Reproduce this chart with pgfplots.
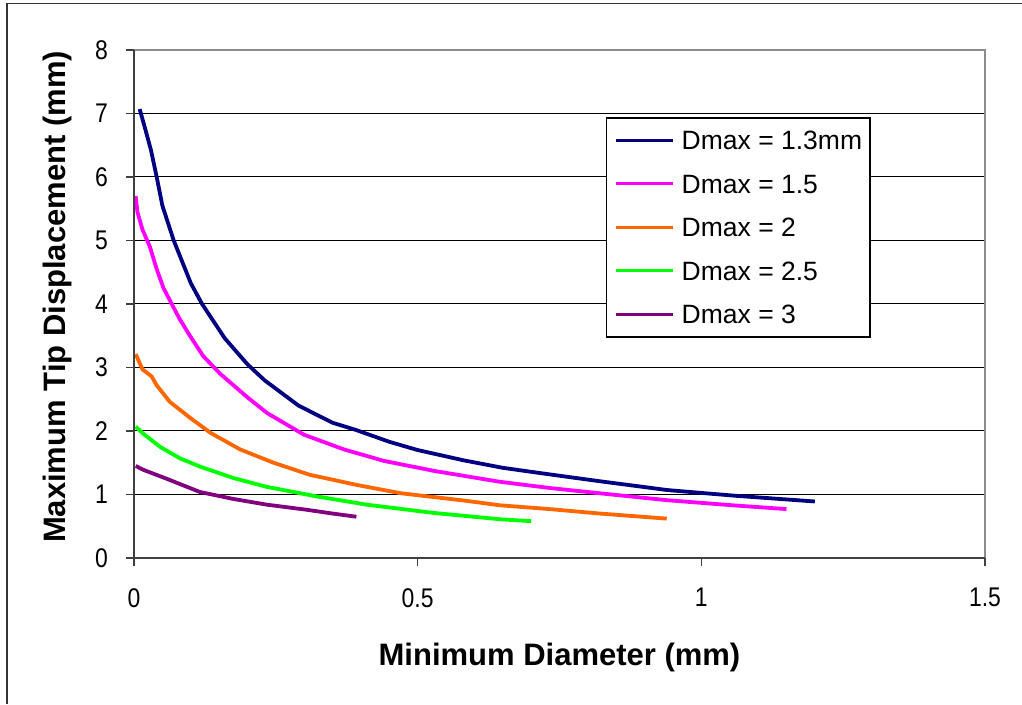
\documentclass[border=0pt]{standalone}
\usepackage{fontspec}
\setmainfont{Liberation Sans}
\newfontfamily\tickfont[FakeStretch=0.85]{Liberation Sans}
\newcommand\tickfmt[1]{{\tickfont\fontsize{27}{27}\selectfont\pgfmathprintnumber[assume math mode=true]{#1}}}
\usepackage{pgfplots}
\pgfplotsset{compat=1.18}

\definecolor{dnavy}{RGB}{0,0,128}
\definecolor{dpink}{RGB}{255,0,255}
\definecolor{dorange}{RGB}{255,102,0}
\definecolor{dgreen}{RGB}{0,255,0}
\definecolor{dpurple}{RGB}{128,0,128}

\begin{document}
\begin{tikzpicture}[x=1pt,y=1pt]
\useasboundingbox (0,0) rectangle (1022,704);
\draw[line width=1.5pt, black!80] (7,0) -- (7,700.5) -- (1022,700.5);
\begin{axis}[
    at={(134pt,146pt)}, anchor=south west,
    scale only axis, width=851pt, height=508pt,
    xmin=0, xmax=1.5, ymin=0, ymax=8,
    xtick={0,0.5,1,1.5}, ytick={0,1,...,8},
    xtick pos=bottom, ytick pos=left,
    tick align=outside, major tick length=8pt,
    tick style={black!75, line width=1.5pt},
    axis line style={draw=none},
    ymajorgrids, major grid style={black, line width=1pt},
    clip=false,
    xticklabel={\tickfmt{\tick}},
    yticklabel={\tickfmt{\tick}},
    tick label style={inner sep=0pt},
    xticklabel style={anchor=north, yshift=-22pt},
    yticklabel style={anchor=east, xshift=-18pt},
    xlabel={Minimum Diameter (mm)},
    ylabel={Maximum Tip Displacement (mm)},
    label style={font=\bfseries\fontsize{31}{31}\selectfont},
    xlabel style={at={([yshift=-99pt]axis description cs:0.5,0)}, anchor=center},
    ylabel style={at={([xshift=-77pt]axis description cs:0,0.514)}, anchor=center},
    legend style={at={(rel axis cs:0.5546,0.868)}, anchor=north west,
        draw=black, line width=1.5pt, inner xsep=8pt, inner ysep=13pt,
        font=\fontsize{26.5}{26.5}\selectfont,
        row sep=24.5pt, column sep=7pt,
        nodes={inner sep=0pt, text height=19pt, text depth=0pt}},
    legend cell align=left,
    legend image code/.code={\draw[#1, line width=3pt] (0pt,0pt) -- (57pt,0pt);},
    every axis plot/.append style={line width=3.8pt, line join=round}
]
\addplot[dnavy] coordinates {
(0.010,7.07) (0.020,6.75) (0.030,6.42) (0.040,6.00) (0.050,5.55) (0.070,5.00)
(0.100,4.33) (0.120,4.00) (0.160,3.46) (0.200,3.05) (0.230,2.80) (0.290,2.40)
(0.350,2.13) (0.390,2.02) (0.450,1.83) (0.500,1.70) (0.580,1.54) (0.650,1.42)
(0.730,1.32) (0.820,1.21) (0.940,1.07) (1.060,0.98) (1.200,0.89)};
\addplot[dpink] coordinates {
(0.003,5.70) (0.006,5.45) (0.015,5.17) (0.028,4.90) (0.040,4.55) (0.052,4.25)
(0.066,4.01) (0.080,3.77) (0.100,3.48) (0.122,3.18) (0.152,2.90) (0.200,2.53)
(0.235,2.28) (0.300,1.94) (0.370,1.71) (0.440,1.53) (0.530,1.37) (0.645,1.20)
(0.735,1.10) (0.820,1.02) (0.940,0.91) (1.055,0.83) (1.150,0.77)};
\addplot[dorange] coordinates {
(0.003,3.21) (0.015,2.97) (0.031,2.86) (0.040,2.72) (0.063,2.46) (0.100,2.20)
(0.135,1.97) (0.187,1.71) (0.246,1.50) (0.310,1.31) (0.393,1.15) (0.470,1.02)
(0.586,0.90) (0.645,0.83) (0.733,0.77) (0.821,0.70) (0.939,0.62)};
\addplot[dgreen] coordinates {
(0.003,2.07) (0.016,1.96) (0.046,1.75) (0.081,1.57) (0.116,1.44) (0.175,1.26)
(0.234,1.12) (0.322,0.97) (0.410,0.84) (0.528,0.71) (0.645,0.61) (0.700,0.58)};
\addplot[dpurple] coordinates {
(0.003,1.45) (0.016,1.39) (0.057,1.25) (0.116,1.04) (0.175,0.93) (0.234,0.84)
(0.304,0.76) (0.350,0.70) (0.392,0.65)};
\legend{Dmax = 1.3mm, Dmax = 1.5, Dmax = 2, Dmax = 2.5, Dmax = 3}
\draw[black!45, line width=2pt] (rel axis cs:0,1) -- (rel axis cs:1,1) -- (rel axis cs:1,0);
\draw[black!75, line width=1.5pt] (rel axis cs:0,1) -- (rel axis cs:0,0) -- (rel axis cs:1,0);
\end{axis}
\end{tikzpicture}
\end{document}
